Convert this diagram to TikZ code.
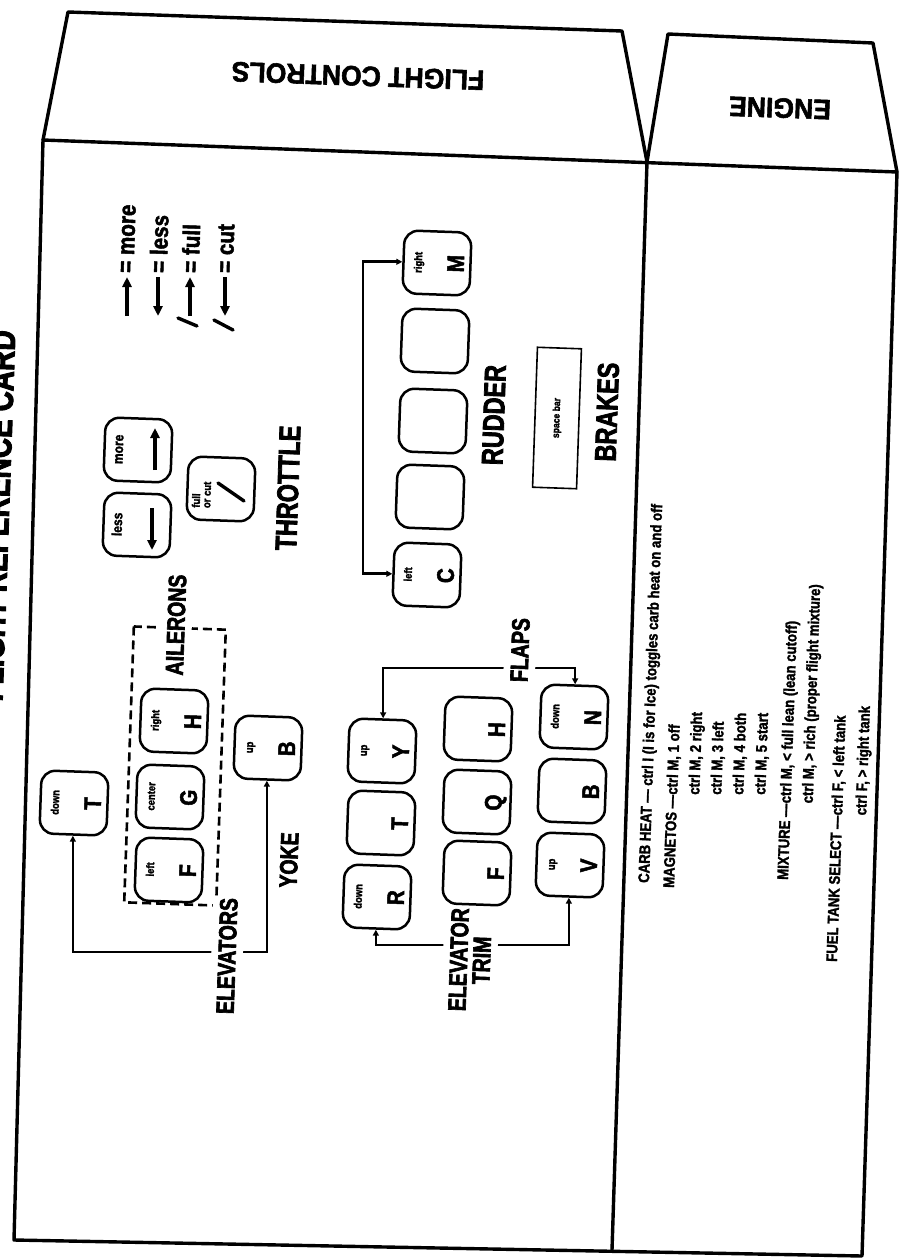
\documentclass[tikz,border=0pt]{standalone}
\usepackage{fontspec}
\setmainfont{Liberation Sans}
\newfontfamily\tagfont[FakeStretch=0.78,FakeBold=2.5]{Liberation Sans}
\newfontfamily\keyfont[FakeStretch=0.86,FakeBold=2]{Liberation Sans}
\newfontfamily\notefont[FakeStretch=0.85,FakeBold=1.8]{Liberation Sans}
\newfontfamily\flapfont[FakeStretch=0.95,FakeBold=2]{Liberation Sans}
\usetikzlibrary{arrows.meta}

% key cap: small word on top, big letter at the bottom
\newcommand{\keycap}[2]{\parbox[c][54pt][s]{56pt}{\centering
    {\keyfont\bfseries\fontsize{11}{11}\selectfont\rule{0pt}{12pt}#1\par}\vfill
    {\keyfont\bfseries\fontsize{24}{24}\selectfont #2\par}}}

\begin{document}
\begin{tikzpicture}[
    x=1pt, y=-1pt,
    frame/.style={
        line width=3.4pt,
        line join=round,
        line cap=round
    },
    key/.style={
        rectangle,
        draw=black,
        rounded corners=14pt,
        line width=2.5pt,
        minimum width=63pt,
        minimum height=67pt,
        inner sep=0pt,
        rotate=88
    },
    bigtag/.style={
        font={\tagfont\bfseries\fontsize{30}{30}\selectfont},
        rotate=88,
        inner sep=0pt
    },
    midtag/.style={
        font={\tagfont\bfseries\fontsize{25}{23}\selectfont},
        rotate=88,
        align=center,
        fill=white,
        inner xsep=2pt,
        inner ysep=7pt
    },
    flaptag/.style={
        font={\flapfont\bfseries\fontsize{28}{28}\selectfont},
        rotate=178
    },
    note/.style={
        font={\notefont\bfseries\fontsize{15.5}{15.5}\selectfont},
        rotate=88,
        anchor=west,
        inner sep=0pt,
        text height=11pt,
        text depth=3pt
    },
    legend/.style={
        font={\keyfont\bfseries\fontsize{24}{24}\selectfont},
        rotate=88,
        anchor=west,
        inner sep=0pt
    },
    small/.style={
        font={\keyfont\bfseries\fontsize{11}{10.5}\selectfont},
        rotate=88,
        align=left,
        inner sep=0pt
    },
    bar/.style={
        rectangle,
        draw=black,
        line width=1.6pt,
        minimum width=140pt,
        minimum height=44pt,
        rotate=88,
        font={\keyfont\bfseries\fontsize{10}{10}\selectfont}
    },
    dashbox/.style={
        rectangle,
        draw=black,
        line width=2.6pt,
        dash pattern=on 9pt off 5pt,
        minimum width=276pt,
        minimum height=92pt,
        rotate=88
    },
    link/.style={
        {Triangle[length=6pt,width=6pt]}-{Triangle[length=6pt,width=6pt]},
        line width=2.6pt
    },
    glyph/.style={
        -{Triangle[length=10pt,width=9pt]},
        line width=3.4pt
    },
    slash/.style={
        line width=3.4pt,
        line cap=round
    }
]
\useasboundingbox (0,0) rectangle (899,1258);

% card outline and the two tabs
\draw[frame] (43,140) -- (68,12) -- (622,31) -- (647,162);
\draw[frame] (647,162) -- (668,34) -- (873,43) -- (897,172);
\draw[frame] (43,140) -- (897,172) -- (862,1256) -- (14,1240) -- cycle;
\draw[frame] (647,162) -- (612,1250);

\node[flaptag] (flight) at (358,76) {FLIGHT CONTROLS};
\node[flaptag] (engine) at (780,108) {ENGINE};
\node[bigtag, font={\tagfont\bfseries\fontsize{36}{36}\selectfont}, anchor=east] (title) at (3,330) {FLIGHT REFERENCE CARD};

% legend
\draw[glyph] (127,316) -- (127,277);
\node[legend] (lgMore) at (127,273) {= more};
\draw[glyph] (158,277) -- (158,316);
\node[legend] (lgLess) at (158,273) {= less};
\draw[glyph] (190,316) -- (190,277);
\draw[slash] (178,318) -- (197,326);
\node[legend] (lgFull) at (190,273) {= full};
\draw[glyph] (225,277) -- (225,316);
\draw[slash] (214,320) -- (233,330);
\node[legend] (lgCut) at (225,273) {= cut};

% throttle
\node[key] (kMore) at (138,450) {\keycap{\fontsize{14}{14}\selectfont more}{}};
\node[key] (kLess) at (137,525) {\keycap{\fontsize{14}{14}\selectfont less}{}};
\node[key] (kFull) at (221,489) {};
\node[small, anchor=west] (tFull) at (201,508) {full\\or cut};
\draw[glyph] (155,470) -- (155,428);
\draw[glyph] (152,508) -- (152,550);
\draw[slash] (218,483) -- (244,501);
\node[bigtag] (tThrottle) at (288,488) {THROTTLE};

% rudder and brakes
\node[key] (kM) at (437,263) {\keycap{right}{M}};
\node[key] (kR2) at (435,341) {};
\node[key] (kR3) at (433,421) {};
\node[key] (kR4) at (430,497) {};
\node[key] (kC) at (427,575) {\keycap{left}{C}};
\coordinate (rudBus) at (363,420);
\draw[link] (kM.north) -- (kM.north -| rudBus) -- (kC.north -| rudBus) -- (kC.north);
\node[bigtag] (tRudder) at (494,415) {RUDDER};
\node[bar] (spaceBar) at (557,418) {space bar};
\node[bigtag] (tBrakes) at (607,412) {BRAKES};

% ailerons, elevators, yoke
\node[dashbox] (ailBox) at (175,766) {};
\node[midtag] (tAil) at (176,625) {AILERONS};
\node[key] (kH) at (174,721) {\keycap{right}{H}};
\node[key] (kG) at (170,797) {\keycap{center}{G}};
\node[key] (kF) at (169,870) {\keycap{left}{F}};
\node[key] (kT) at (74,803) {\keycap{down}{T}};
\node[key] (kB) at (268,748) {\keycap{up}{B}};
\coordinate (elevBus) at (230,952);
\draw[link] (kT.west) -- (kT.west |- elevBus) -- (kB.west |- elevBus) -- (kB.west);
\node[midtag] (tElev) at (227,956) {ELEVATORS};
\node[midtag] (tYoke) at (289,860) {YOKE};

% flaps and elevator trim
\node[key] (kY) at (382,751) {\keycap{up}{Y}};
\node[key] (kT2) at (381,823) {\keycap{}{T}};
\node[key] (kR) at (377,897) {\keycap{down}{R}};
\node[key] (kH2) at (478,729) {\keycap{}{H}};
\node[key] (kQ) at (477,802) {\keycap{}{Q}};
\node[key] (kF2) at (477,873) {\keycap{}{F}};
\node[key] (kN) at (574,717) {\keycap{down}{N}};
\node[key] (kB2) at (572,791) {\keycap{}{B}};
\node[key] (kV) at (570,865) {\keycap{up}{V}};
\coordinate (flapBus) at (520,668);
\coordinate (trimBus) at (470,945);
\draw[link] (kY.east) -- (kY.east |- flapBus) -- (kN.east |- flapBus) -- (kN.east);
\draw[link] (kR.west) -- (kR.west |- trimBus) -- (kV.west |- trimBus) -- (kV.west);
\node[midtag] (tFlaps) at (520,650) {FLAPS};
\node[midtag] (tTrim) at (470,960) {ELEVATOR\\TRIM};

% engine notes
\node[note] (cHeat) at (645,883) {CARB HEAT — ctrl I (I is for Ice) toggles carb heat on and off};
\node[note] (cMag) at (670,888) {MAGNETOS —\ };
\node[note] (cMag1) at (cMag.east) {ctrl M, 1 off};
\node[note] (cMag2) at ([xshift=22pt]cMag1.west) {ctrl M, 2 right};
\node[note] (cMag3) at ([xshift=44pt]cMag1.west) {ctrl M, 3 left};
\node[note] (cMag4) at ([xshift=66pt]cMag1.west) {ctrl M, 4 both};
\node[note] (cMag5) at ([xshift=88pt]cMag1.west) {ctrl M, 5 start};
\node[note] (cMix) at (784,880) {MIXTURE —\ };
\node[note] (cMix1) at (cMix.east) {ctrl M, < full lean (lean cutoff)};
\node[note] (cMix2) at ([xshift=22pt]cMix1.west) {ctrl M, > rich (proper flight mixture)};
\node[note] (cFuel) at (833,962) {FUEL TANK SELECT —\ };
\node[note] (cFuel1) at (cFuel.east) {ctrl F, < left tank};
\node[note] (cFuel2) at ([xshift=24pt]cFuel1.west) {ctrl F, > right tank};

\end{tikzpicture}
\end{document}
